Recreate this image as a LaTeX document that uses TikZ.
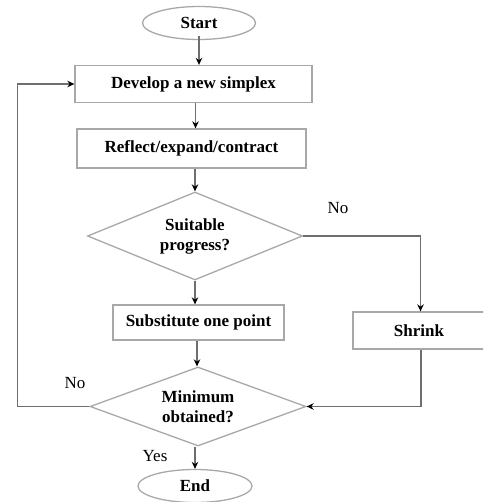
\documentclass[tikz,border=0pt]{standalone}
\usepackage{fontspec}
\setmainfont{Liberation Serif}
\usetikzlibrary{shapes.geometric,arrows.meta}
\definecolor{boxgray}{HTML}{A8A8A8}
\definecolor{linegray}{HTML}{6E6E6E}
\begin{document}
\begin{tikzpicture}[x=1pt,y=-1pt,
  every node/.style={font=\fontsize{17}{20}\selectfont\bfseries},
  procbox/.style={draw=boxgray,line width=1.3pt,rectangle,inner sep=0pt,align=center},
  termnode/.style={draw=boxgray,line width=1.3pt,ellipse,inner sep=0pt},
  decnode/.style={draw=boxgray,line width=1.3pt,diamond,inner sep=0pt,align=center},
  lbl/.style={font=\fontsize{17}{20}\selectfont\mdseries,inner sep=0pt},
  arr/.style={draw=linegray,line width=1.2pt,-{Stealth[length=7pt,width=6.5pt,black]}}]
\useasboundingbox (0,0) rectangle (483,502);
\clip (0,0) rectangle (483,502);
\node[termnode,minimum width=113pt,minimum height=33pt] (start) at (199,23) {Start};
\node[procbox,minimum width=237pt,minimum height=37pt] (develop) at (193.5,84) {Develop a new simplex};
\node[procbox,minimum width=229pt,minimum height=39pt] (reflect) at (191.5,148.5) {Reflect/expand/contract};
\node[decnode,minimum width=215pt,minimum height=88pt,aspect=2.44] (suit) at (195,236) {Suitable\\progress?};
\node[procbox,minimum width=171pt,minimum height=35pt] (subst) at (198.5,322.5) {Substitute one point};
\node[procbox,minimum width=132pt,minimum height=37pt] (shrink) at (419,330.5) {Shrink};
\node[decnode,minimum width=216pt,minimum height=79pt,aspect=2.73] (minob) at (198,406.5) {Minimum\\obtained?};
\node[termnode,minimum width=114pt,minimum height=33pt] (end) at (195,486) {End};
\node[lbl] (no1) at (338,208) {No};
\node[lbl] (no2) at (75,383) {No};
\node[lbl] (yes) at (155,456) {Yes};
\draw[arr] ([yshift=4pt]start.south) -- (start.south |- develop.north);
\draw[arr] ([xshift=2pt]develop.south) -- ([xshift=2pt]develop.south |- reflect.north);
\draw[arr] ([xshift=3.5pt]reflect.south) -- ([xshift=3.5pt]reflect.south |- suit.north);
\draw[arr] (suit.south) -- (suit.south |- subst.north);
\draw[arr] ([xshift=-1.5pt]subst.south) -- ([xshift=-1.5pt]subst.south |- minob.north);
\draw[arr] ([xshift=-3pt]minob.south) -- ([xshift=-3pt]minob.south |- end.north);
\draw[arr] (suit.east) -| ([xshift=1.5pt]shrink.north);
\draw[arr] ([xshift=2pt]shrink.south) |- (minob.east);
\draw[arr] (minob.west) -- ++(-72,0) coordinate (loopc) |- (develop.west);
\end{tikzpicture}
\end{document}
